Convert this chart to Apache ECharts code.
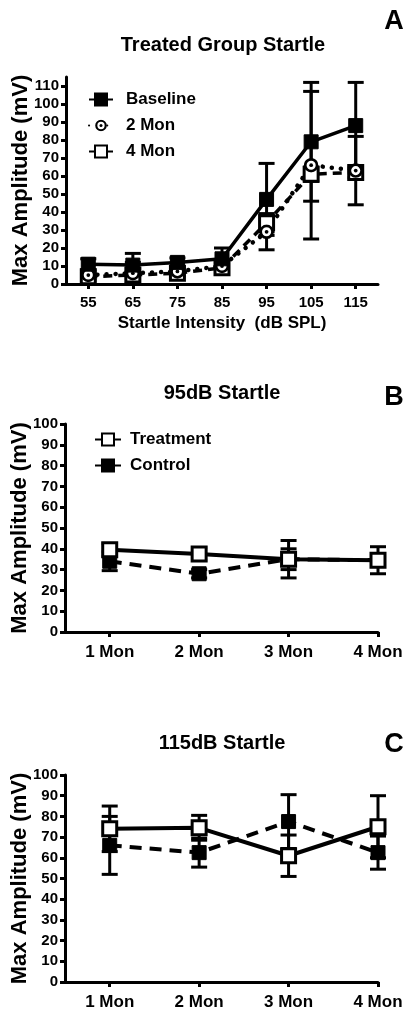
<!DOCTYPE html>
<html>
<head>
<meta charset="utf-8">
<script src="https://cdn.jsdelivr.net/npm/echarts@6/dist/echarts.min.js"></script>
<style>
html,body{margin:0;padding:0;background:#fff;}
#c{width:414px;height:1016px;}
</style>
</head>
<body>
<div id="c"></div>
<script>
// ---------- DATA ----------
const intensities = [55, 65, 75, 85, 95, 105, 115];
const baseline = [11, 10.5, 12, 14, 47, 79, 88];
const baselineErr = [3, 6.5, 2.5, 6, 20, 33, 24];
const mon2 = [5, 6, 7, 10, 29, 66, 63];
const mon2Err = [2, 6, 2, 3, 10, 41, 19];
const mon4 = [4, 5, 6, 9, 34, 61, 62];
const mon4Err = [2, 2, 2, 2, 5, 4, 3];

const months = ['1 Mon', '2 Mon', '3 Mon', '4 Mon'];
const monthPos = [1, 2, 3, 4];
const treat95 = [39.5, 37.5, 35, 34.5];
const treat95Err = [3, 3, 5, 3];
const ctrl95 = [34, 28, 35, 34.5];
const ctrl95Err = [4.5, 2, 9, 6.5];
const treat115 = [74, 74.5, 61, 75];
const treat115Err = [11, 6, 10, 15];
const ctrl115 = [66, 62.5, 77.5, 62.5];
const ctrl115Err = [14, 7, 13, 8];

const yTicksA = [0,10,20,30,40,50,60,70,80,90,100,110];
const yTicksB = [0,10,20,30,40,50,60,70,80,90,100];

// ---------- HELPERS ----------
const FONT = '"Liberation Sans", Arial, sans-serif';
const pairs = (xs, ys) => xs.map((x, i) => [x, ys[i]]);
const errData = (xs, ys, es) => xs.map((x, i) => [x, ys[i] - es[i], ys[i] + es[i]]);

function errRender(params, api) {
  const x = api.value(0), lo = api.value(1), hi = api.value(2);
  const p1 = api.coord([x, hi]), p2 = api.coord([x, lo]);
  const w = 8;
  const st = {stroke: '#000', lineWidth: 3};
  return {type: 'group', children: [
    {type: 'line', shape: {x1: p1[0], y1: p1[1], x2: p2[0], y2: p2[1]}, style: st},
    {type: 'line', shape: {x1: p1[0]-w, y1: p1[1], x2: p1[0]+w, y2: p1[1]}, style: st},
    {type: 'line', shape: {x1: p2[0]-w, y1: p2[1], x2: p2[0]+w, y2: p2[1]}, style: st}
  ]};
}
function errSeries(idx, data) {
  return {type: 'custom', xAxisIndex: idx, yAxisIndex: idx, renderItem: errRender,
    encode: {x: 0, y: [1, 2]}, data: data, z: 1, silent: true};
}

const circleDot = 'image://data:image/svg+xml;utf8,' + encodeURIComponent(
  '<svg xmlns="http://www.w3.org/2000/svg" width="28" height="28" viewBox="0 0 28 28">' +
  '<circle cx="14" cy="14" r="11" fill="#fff" stroke="#000" stroke-width="5"/>' +
  '<circle cx="14" cy="14" r="3.5" fill="#000"/></svg>');

const axisLine = {show: true, lineStyle: {color: '#000', width: 3}};
const axisTick = {show: true, length: 5, lineStyle: {color: '#000', width: 3}};
const tickLabel = {color: '#000', fontWeight: 'bold', fontFamily: FONT, fontSize: 15, margin: 7};

function yAxis(gi, max, ticks) {
  return {type: 'value', gridIndex: gi, min: 0, max: max,
    name: 'Max Amplitude (mV)', nameLocation: 'middle', nameGap: 34, nameMoveOverlap: false,
    nameTextStyle: {color: '#000', fontWeight: 'bold', fontFamily: FONT, fontSize: 22},
    axisLine: axisLine, axisTick: Object.assign({customValues: ticks}, axisTick),
    axisLabel: Object.assign({customValues: ticks}, tickLabel),
    splitLine: {show: false}};
}

const lineBase = {symbolSize: 14, showSymbol: true, z: 3};
const legendText = {color: '#000', fontWeight: 'bold', fontFamily: FONT, fontSize: 17};

const option = {
  backgroundColor: '#fff',
  animation: false,
  grid: [
    {left: 66, top: 77, width: 312, height: 207, outerBoundsMode: 'none', containLabel: false},
    {left: 65, top: 424, width: 313, height: 208, outerBoundsMode: 'none', containLabel: false},
    {left: 65, top: 775, width: 313, height: 207, outerBoundsMode: 'none', containLabel: false}
  ],
  xAxis: [
    {type: 'value', gridIndex: 0, min: 50, max: 120,
      name: 'Startle Intensity  (dB SPL)', nameLocation: 'middle', nameGap: 31, nameMoveOverlap: false,
      nameTextStyle: {color: '#000', fontWeight: 'bold', fontFamily: FONT, fontSize: 17},
      axisLine: axisLine, axisTick: Object.assign({customValues: intensities}, axisTick),
      axisLabel: Object.assign({customValues: intensities}, tickLabel, {fontSize: 15, margin: 11}),
      splitLine: {show: false}},
    {type: 'value', gridIndex: 1, min: 0.5, max: 4,
      axisLine: axisLine, axisTick: Object.assign({customValues: monthPos}, axisTick),
      axisLabel: Object.assign({customValues: monthPos, formatter: v => months[Math.round(v) - 1]}, tickLabel, {fontSize: 17, margin: 12}),
      splitLine: {show: false}},
    {type: 'value', gridIndex: 2, min: 0.5, max: 4,
      axisLine: axisLine, axisTick: Object.assign({customValues: monthPos}, axisTick),
      axisLabel: Object.assign({customValues: monthPos, formatter: v => months[Math.round(v) - 1]}, tickLabel, {fontSize: 17, margin: 12}),
      splitLine: {show: false}}
  ],
  yAxis: [yAxis(0, 115, yTicksA), yAxis(1, 100, yTicksB), yAxis(2, 100, yTicksB)],
  legend: [
    {orient: 'vertical', left: 83, top: 86, itemWidth: 24, itemHeight: 15, itemGap: 9,
      data: ['Baseline', '2 Mon', '4 Mon'],
      textStyle: Object.assign({padding: [0, 0, 0, 8]}, legendText)},
    {orient: 'vertical', left: 89, top: 426, itemWidth: 26, itemHeight: 15, itemGap: 9,
      data: ['Treatment', 'Control'],
      textStyle: Object.assign({padding: [0, 0, 0, 4]}, legendText)}
  ],
  graphic: [
    {type: 'text', x: 223, y: 45, style: {text: 'Treated Group Startle', font: 'bold 20px ' + FONT, fill: '#000', align: 'center', verticalAlign: 'middle'}},
    {type: 'text', x: 394, y: 22, style: {text: 'A', font: 'bold 27px ' + FONT, fill: '#000', align: 'center', verticalAlign: 'middle'}},
    {type: 'text', x: 222, y: 393, style: {text: '95dB Startle', font: 'bold 20px ' + FONT, fill: '#000', align: 'center', verticalAlign: 'middle'}},
    {type: 'text', x: 394, y: 398, style: {text: 'B', font: 'bold 27px ' + FONT, fill: '#000', align: 'center', verticalAlign: 'middle'}},
    {type: 'text', x: 222, y: 743, style: {text: '115dB Startle', font: 'bold 20px ' + FONT, fill: '#000', align: 'center', verticalAlign: 'middle'}},
    {type: 'text', x: 394, y: 745, style: {text: 'C', font: 'bold 27px ' + FONT, fill: '#000', align: 'center', verticalAlign: 'middle'}}
  ],
  series: [
    errSeries(0, errData(intensities, baseline, baselineErr)),
    errSeries(0, errData(intensities, mon2, mon2Err)),
    errSeries(0, errData(intensities, mon4, mon4Err)),
    Object.assign({}, lineBase, {name: '4 Mon', type: 'line', xAxisIndex: 0, yAxisIndex: 0,
      data: pairs(intensities, mon4), symbol: 'rect',
      itemStyle: {color: '#fff', borderColor: '#000', borderWidth: 3},
      lineStyle: {color: '#000', width: 3.5, type: [9, 6]}}),
    Object.assign({}, lineBase, {name: '2 Mon', type: 'line', xAxisIndex: 0, yAxisIndex: 0,
      data: pairs(intensities, mon2), symbol: circleDot, symbolSize: 15,
      itemStyle: {color: '#000'},
      lineStyle: {color: '#000', width: 4.5, type: [0.1, 9], cap: 'round'}}),
    Object.assign({}, lineBase, {name: 'Baseline', type: 'line', xAxisIndex: 0, yAxisIndex: 0,
      data: pairs(intensities, baseline), symbol: 'rect',
      itemStyle: {color: '#000', borderColor: '#000', borderWidth: 1},
      lineStyle: {color: '#000', width: 3.5, type: 'solid'}}),

    errSeries(1, errData(monthPos, treat95, treat95Err)),
    errSeries(1, errData(monthPos, ctrl95, ctrl95Err)),
    Object.assign({}, lineBase, {name: 'Control', type: 'line', xAxisIndex: 1, yAxisIndex: 1,
      data: pairs(monthPos, ctrl95), symbol: 'rect',
      itemStyle: {color: '#000', borderColor: '#000', borderWidth: 1},
      lineStyle: {color: '#000', width: 4, type: [12, 8]}}),
    Object.assign({}, lineBase, {name: 'Treatment', type: 'line', xAxisIndex: 1, yAxisIndex: 1,
      data: pairs(monthPos, treat95), symbol: 'rect',
      itemStyle: {color: '#fff', borderColor: '#000', borderWidth: 3},
      lineStyle: {color: '#000', width: 4, type: 'solid'}}),

    errSeries(2, errData(monthPos, treat115, treat115Err)),
    errSeries(2, errData(monthPos, ctrl115, ctrl115Err)),
    Object.assign({}, lineBase, {name: 'Control', type: 'line', xAxisIndex: 2, yAxisIndex: 2,
      data: pairs(monthPos, ctrl115), symbol: 'rect',
      itemStyle: {color: '#000', borderColor: '#000', borderWidth: 1},
      lineStyle: {color: '#000', width: 4, type: [12, 8]}}),
    Object.assign({}, lineBase, {name: 'Treatment', type: 'line', xAxisIndex: 2, yAxisIndex: 2,
      data: pairs(monthPos, treat115), symbol: 'rect',
      itemStyle: {color: '#fff', borderColor: '#000', borderWidth: 3},
      lineStyle: {color: '#000', width: 4, type: 'solid'}})
  ]
};

const chart = echarts.init(document.getElementById('c'), null, {renderer: 'canvas'});
chart.setOption(option);
</script>
</body>
</html>
